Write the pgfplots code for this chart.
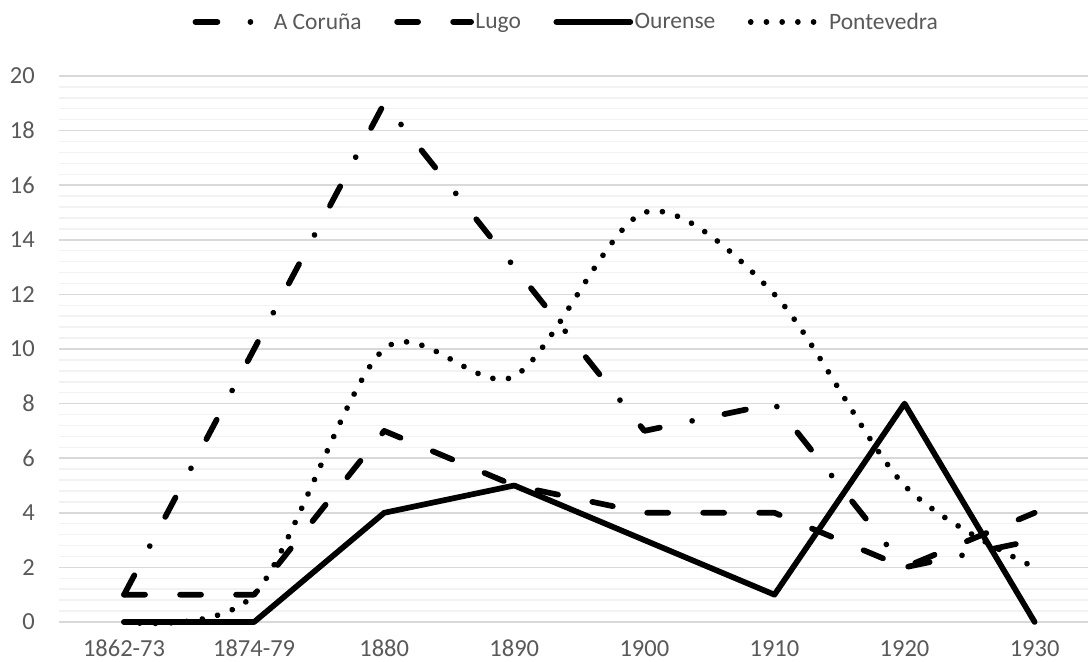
\documentclass[border=0pt]{standalone}
\usepackage{pgfplots}
\pgfplotsset{compat=1.18}
\usepackage{fontspec}
\setmainfont{Carlito}
\definecolor{txt}{RGB}{89,89,89}
\definecolor{majgrid}{RGB}{217,217,217}
\definecolor{mingrid}{RGB}{242,242,242}
\begin{document}
\begin{tikzpicture}[x=1bp,y=1bp]
\useasboundingbox (0,0) rectangle (1088,662);
\begin{axis}[
    at={(59bp,40bp)}, anchor=south west,
    scale only axis, width=1029bp, height=546bp,
    xmin=-0.5, xmax=7.41, ymin=0, ymax=20,
    xtick={0,...,7},
    xticklabels={1862-73,1874-79,1880,1890,1900,1910,1920,1930},
    ytick={0,2,...,20}, minor y tick num=4,
    ymajorgrids=true, yminorgrids=true,
    major grid style={majgrid, line width=1.5bp},
    minor grid style={mingrid, line width=1.5bp},
    axis line style={draw=none},
    tick style={draw=none},
    major tick length=0pt, minor tick length=0pt,
    /pgf/number format/assume math mode=true,
    tick label style={font=\fontsize{24.5bp}{29bp}\selectfont, text=txt, inner sep=0pt},
    xticklabel style={anchor=base, yshift=-34.5bp},
    yticklabel style={anchor=east, xshift=-24bp},
    clip=false,
    legend columns=4,
    legend style={at={(rel axis cs:0.4927,1.099)}, anchor=center,
                  draw=none, fill=none, text=txt,
                  font=\fontsize{23.5bp}{28bp}\selectfont,
                  nodes={inner sep=1.5bp},
                  /tikz/every even column/.append style={column sep=31bp}},
    legend image code/.code={\draw[#1] (0bp,0bp) -- (74bp,0bp);},
    every axis plot/.append style={black, line width=5.7bp, line cap=round, line join=round},
  ]
\addplot[dash pattern=on 22bp off 33bp on 0.01bp off 33bp] coordinates {
  (0,1) (1,10) (2,19) (3,13) (4,7) (5,8) (6,2) (7,3)};
\addlegendentry{A Coruña}
\addplot[dash pattern=on 21bp off 35bp] coordinates {
  (0,1) (1,1) (2,7) (3,5) (4,4) (5,4) (6,2) (7,4)};
\addlegendentry{Lugo}
\addplot[solid] coordinates {
  (0,0) (1,0) (2,4) (3,5) (4,3) (5,1) (6,8) (7,0)};
\addlegendentry{Ourense}
\addplot[dash pattern=on 0.01bp off 15.7bp, smooth, tension=0.5] coordinates {
  (0,0) (1,1) (2,10) (3,9) (4,15) (5,12) (6,5) (7,2)};
\addlegendentry{Pontevedra}
\end{axis}
\end{tikzpicture}
\end{document}
